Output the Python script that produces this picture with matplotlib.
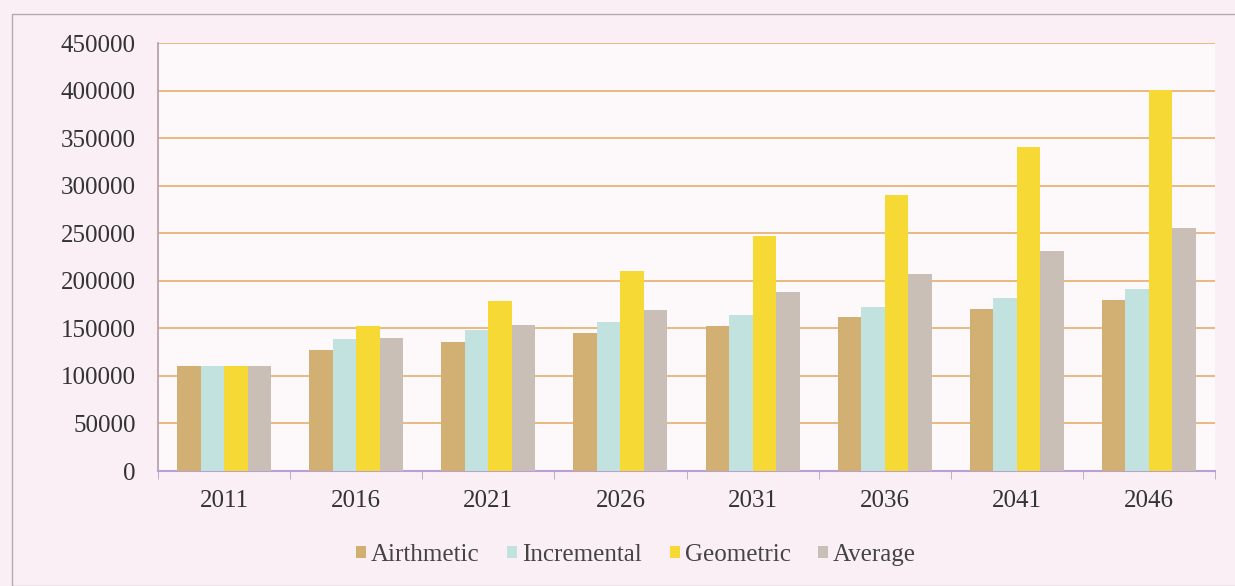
import matplotlib
matplotlib.use("Agg")
import matplotlib.pyplot as plt
import numpy as np
from matplotlib.patches import Rectangle

years = ["2011", "2016", "2021", "2026", "2031", "2036", "2041", "2046"]
arithmetic = [110500, 127000, 135500, 145000, 152500, 162000, 170000, 179500]
incremental = [110500, 138500, 148000, 156500, 164000, 172500, 182000, 191000]
geometric = [110500, 152500, 178500, 210000, 247000, 290000, 340500, 400500]
average = [110500, 139500, 153500, 169500, 188500, 207500, 231500, 256000]
series_names = ["Airthmetic", "Incremental", "Geometric", "Average"]
colors = ["#d2b074", "#c2e2df", "#f7d936", "#c9bfb6"]

plt.rcParams['font.family'] = ['Liberation Serif', 'DejaVu Serif']
W, H = 1235, 586
fig = plt.figure(figsize=(W / 100, H / 100), dpi=100)
fig.patch.set_facecolor("#f9eff5")
ax = fig.add_axes([158 / W, 1 - 471 / H, (1215 - 158) / W, (471 - 43) / H])
ax.set_facecolor("#fdf8fa")

# outer border
fig.patches.append(Rectangle((12 / W, 0), 1.0, 1 - 14 / H, transform=fig.transFigure,
                             fill=False, edgecolor="#b8a8b0", linewidth=1.0))

x = np.arange(len(years))
bw = 0.178
data = [arithmetic, incremental, geometric, average]
for i, (vals, c, name) in enumerate(zip(data, colors, series_names)):
    ax.bar(x + (i - 1.5) * bw, vals, width=bw, color=c, label=name, zorder=3)

ax.set_ylim(0, 450000)
ax.set_xlim(-0.5, len(years) - 0.5)
ax.set_yticks(np.arange(0, 450001, 50000))
ax.set_yticklabels([str(v) for v in range(0, 450001, 50000)], fontsize=18, color="#333333")
ax.yaxis.grid(True, color="#e9b478", linewidth=1.3, zorder=0)
ax.tick_params(axis='y', length=0, pad=16)

ax.set_xticks(x)
ax.set_xticklabels(years, fontsize=18, color="#333333")
ax.set_xticks(np.arange(-0.5, len(years), 1), minor=True)
ax.tick_params(axis='x', which='major', length=0, pad=14)
ax.tick_params(axis='x', which='minor', length=6, color="#b8a0c8", direction='out')

for s in ["top", "right"]:
    ax.spines[s].set_visible(False)
ax.spines["left"].set_color("#b89aa8")
ax.spines["bottom"].set_color("#b8a0d0")
ax.spines["left"].set_linewidth(1.2)
ax.spines["bottom"].set_linewidth(1.5)

leg = fig.legend(loc="center", bbox_to_anchor=(0.515, 1 - 555 / H), ncol=4, frameon=False,
                 fontsize=18, handlelength=0.4, handleheight=0.4, handletextpad=0.2,
                 columnspacing=1.1)
for t in leg.get_texts():
    t.set_color("#444444")

fig.savefig("out.png", dpi=100, facecolor=fig.get_facecolor())
